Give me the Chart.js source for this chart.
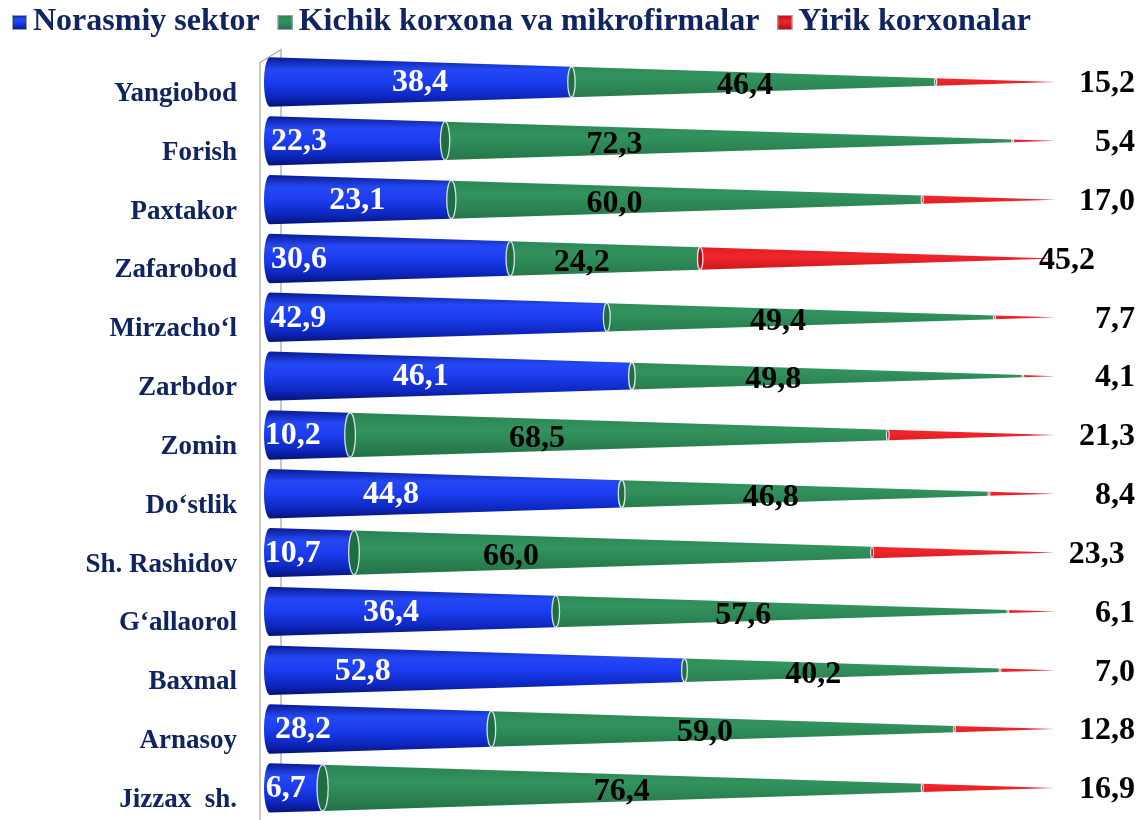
<!DOCTYPE html>
<html>
<head>
<meta charset="utf-8">
<script src="https://cdn.jsdelivr.net/npm/chart.js@4.4.1/dist/chart.umd.min.js"></script>
<style>
  html, body { margin: 0; padding: 0; background: #fff; }
</style>
</head>
<body>
<canvas id="chart" width="1141" height="820"></canvas>
<script>
// Data (shares, %)
const districts = ['Yangiobod', 'Forish', 'Paxtakor', 'Zafarobod', 'Mirzacho‘l', 'Zarbdor', 'Zomin',
                   'Do‘stlik', 'Sh. Rashidov', 'G‘allaorol', 'Baxmal', 'Arnasoy', 'Jizzax  sh.'];
const seriesNames = ['Norasmiy sektor', 'Kichik korxona va mikrofirmalar', 'Yirik korxonalar'];
const informal = [38.4, 22.3, 23.1, 30.6, 42.9, 46.1, 10.2, 44.8, 10.7, 36.4, 52.8, 28.2, 6.7];
const smallBiz = [46.4, 72.3, 60.0, 24.2, 49.4, 49.8, 68.5, 46.8, 66.0, 57.6, 40.2, 59.0, 76.4];
const largeBiz = [15.2, 5.4, 17.0, 45.2, 7.7, 4.1, 21.3, 8.4, 23.3, 6.1, 7.0, 12.8, 16.9];

// where the value labels sit, in axis units (%), as placed in the original
const blueLabelAt = [19.1, 3.7, 11.1, 3.7, 3.6, 19.2, 2.9, 15.4, 2.9, 15.4, 11.8, 4.2, 2.0];
const greenLabelAt = [60.5, 43.9, 43.9, 39.7, 64.7, 64.1, 34.0, 63.8, 30.7, 60.3, 69.2, 55.4, 44.8];
const redLabelEnd = [110.2, 110.2, 110.2, 105.1, 110.2, 110.2, 110.2, 110.2, 108.9, 110.2, 110.2, 110.2, 110.2];

const fmt = v => v.toFixed(1).replace('.', ',');
const navy = '#0f2460';
const serif = 'Liberation Serif, Times New Roman, serif';

function segFill(ctx, di, top, bottom) {
    const g = ctx.createLinearGradient(0, top, 0, bottom);
    if (di === 0) {
        g.addColorStop(0, '#081a92');
        g.addColorStop(0.25, '#2448f4');
        g.addColorStop(0.5, '#1c3df0');
        g.addColorStop(0.8, '#0d27bf');
        g.addColorStop(1, '#061378');
    } else if (di === 1) {
        g.addColorStop(0, '#2a8253');
        g.addColorStop(0.4, '#32935e');
        g.addColorStop(1, '#236f45');
    } else {
        g.addColorStop(0, '#c80a12');
        g.addColorStop(0.45, '#f0262c');
        g.addColorStop(1, '#b00810');
    }
    return g;
}

// draws every stacked bar as a slice of one cone that narrows to 100 %
const conePlugin = {
    id: 'cones',
    beforeDatasetsDraw(chart) {
        const ctx = chart.ctx;
        const xs = chart.scales.x;
        const area = chart.chartArea;
        const x0 = xs.getPixelForValue(0);
        const x1 = xs.getPixelForValue(100);

        // the thin side wall on the left
        ctx.save();
        ctx.strokeStyle = '#aaa39a';
        ctx.lineWidth = 1.2;
        ctx.beginPath();
        ctx.moveTo(x0 - 10, 820);
        ctx.lineTo(x0 - 10, area.top + 10);
        ctx.lineTo(x0 + 11, area.top - 3);
        ctx.lineTo(x0 + 11, 812);
        ctx.stroke();
        ctx.restore();

        chart.data.datasets.forEach((ds, di) => {
            chart.getDatasetMeta(di).data.forEach(bar => {
                const p = bar.getProps(['x', 'y', 'base', 'height'], true);
                const H = p.height;
                const hAt = px => Math.max(0, H * (x1 - px) / (x1 - x0));
                const hb = hAt(p.base), he = hAt(p.x);
                const y = p.y;
                const rxb = 6 * hb / H;
                ctx.save();
                ctx.fillStyle = segFill(ctx, di, y - H / 2, y + H / 2);
                ctx.beginPath();
                ctx.moveTo(p.x, y - he / 2);
                ctx.lineTo(p.base, y - hb / 2);
                if (di === 0) {
                    ctx.ellipse(p.base, y, rxb, hb / 2, 0, -Math.PI / 2, Math.PI / 2, true);
                } else {
                    ctx.lineTo(p.base, y + hb / 2);
                }
                ctx.lineTo(p.x, y + he / 2);
                ctx.closePath();
                ctx.fill();
                if (di > 0) {
                    // the cut face where this slice begins
                    ctx.beginPath();
                    ctx.ellipse(p.base, y, Math.max(rxb, 1), hb / 2, 0, 0, Math.PI * 2);
                    ctx.fillStyle = di === 1 ? '#1f6e43' : '#b80c12';
                    ctx.fill();
                    ctx.strokeStyle = 'rgba(235,240,245,0.9)';
                    ctx.lineWidth = 1.3;
                    ctx.stroke();
                }
                ctx.restore();
            });
        });
        return false;
    },
    afterDraw(chart) {
        const ctx = chart.ctx;
        const xs = chart.scales.x;
        const meta = chart.getDatasetMeta(0);
        ctx.save();
        ctx.font = 'bold 32px ' + serif;
        ctx.textBaseline = 'middle';
        meta.data.forEach((bar, i) => {
            const y = bar.y + 1;
            ctx.textAlign = 'center';
            ctx.fillStyle = '#ffffff';
            ctx.fillText(fmt(informal[i]), xs.getPixelForValue(blueLabelAt[i]), y);
            ctx.fillStyle = '#000000';
            ctx.fillText(fmt(smallBiz[i]), xs.getPixelForValue(greenLabelAt[i]), y + 3);
            ctx.textAlign = 'right';
            ctx.fillText(fmt(largeBiz[i]), xs.getPixelForValue(redLabelEnd[i]), y + 1);
        });

        // legend row at the top: small square, then the series name
        ctx.textAlign = 'left';
        let lx = 12;
        chart.data.datasets.forEach((ds, di) => {
            ctx.fillStyle = segFill(ctx, di, 15, 30);
            ctx.fillRect(lx, 15, 15, 15);
            ctx.strokeStyle = '#9aa0aa';
            ctx.lineWidth = 1;
            ctx.strokeRect(lx + 0.5, 15.5, 14, 14);
            ctx.fillStyle = navy;
            ctx.fillText(ds.label, lx + 21, 22);
            lx += 21 + ctx.measureText(ds.label).width + 18;
        });
        ctx.restore();
    }
};

new Chart(document.getElementById('chart'), {
    type: 'bar',
    data: {
        labels: districts,
        datasets: [
            { label: seriesNames[0], data: informal, backgroundColor: '#1f3ee6' },
            { label: seriesNames[1], data: smallBiz, backgroundColor: '#2e8b57' },
            { label: seriesNames[2], data: largeBiz, backgroundColor: '#e3121a' }
        ]
    },
    options: {
        indexAxis: 'y',
        responsive: false,
        animation: false,
        barPercentage: 0.84,
        categoryPercentage: 1,
        layout: { padding: { left: 0, right: 86, top: 52.6, bottom: 0 } },
        plugins: {
            legend: { display: false },
            tooltip: { enabled: false }
        },
        scales: {
            x: { stacked: true, min: 0, max: 100, display: false },
            y: {
                stacked: true,
                grid: { display: false, drawTicks: true, tickLength: 33 },
                border: { display: false },
                ticks: {
                    autoSkip: false,
                    color: navy,
                    padding: 0,
                    labelOffset: 12,
                    font: { family: serif, size: 27, weight: 'bold', lineHeight: 0.2 }
                },
                afterFit(scale) { scale.width = 270; }
            }
        }
    },
    plugins: [conePlugin]
});
</script>
</body>
</html>
